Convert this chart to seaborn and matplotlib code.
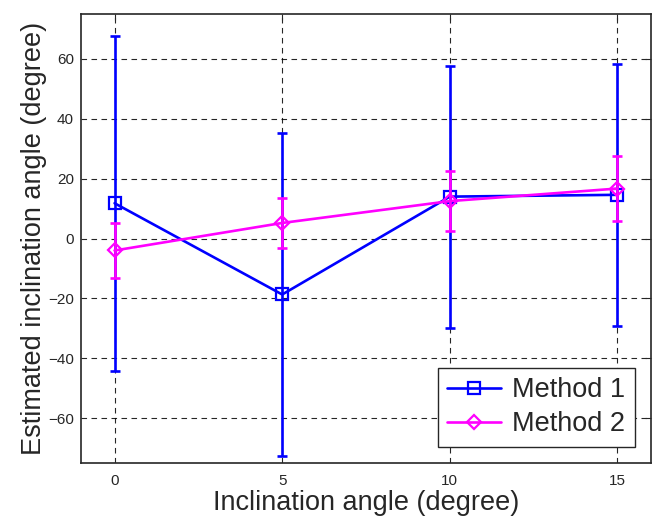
import matplotlib
matplotlib.use("Agg")
import matplotlib.pyplot as plt
import seaborn as sns
import pandas as pd
import numpy as np

angles = [0, 5, 10, 15]
method1_mean = [11.8, -18.7, 14.0, 14.6]
method1_err = [56.0, 54.0, 43.8, 43.8]
method2_mean = [-4.0, 5.2, 12.5, 16.7]
method2_err = [9.3, 8.2, 9.9, 10.8]
series_names = ["Method 1", "Method 2"]
xticks = [0, 5, 10, 15]
yticks = [-60, -40, -20, 0, 20, 40, 60]

sns.set_theme(style="white")
plt.rcParams['font.family'] = ['Liberation Sans', 'DejaVu Sans']

fig = plt.figure(figsize=(6.55, 5.2), dpi=100)
ax = fig.add_axes([0.1237, 0.1096, 0.9939 - 0.1237, 0.973 - 0.1096])

df = pd.DataFrame({
    "angle": angles * 2,
    "value": method1_mean + method2_mean,
    "err": method1_err + method2_err,
    "method": [series_names[0]] * 4 + [series_names[1]] * 4,
})
colors = {"Method 1": "#0000ff", "Method 2": "#ff00ff"}
markers = {"Method 1": "s", "Method 2": "D"}

for name in series_names:
    sub = df[df["method"] == name]
    ax.errorbar(sub["angle"], sub["value"], yerr=sub["err"], fmt="none",
                ecolor=colors[name], elinewidth=1.9, capsize=3.5, capthick=1.9,
                zorder=3 if name == "Method 1" else 5)
    sns.lineplot(data=sub, x="angle", y="value", ax=ax, color=colors[name],
                 marker=markers[name], markersize=8.5 if name == "Method 1" else 7.5,
                 markerfacecolor="none", markeredgecolor=colors[name],
                 markeredgewidth=1.6, linewidth=1.9, label=name,
                 errorbar=None, zorder=4 if name == "Method 1" else 6)

ax.set_xlim(-1, 16)
ax.set_ylim(-75, 75)
ax.set_xticks(xticks)
ax.set_yticks(yticks)
ax.tick_params(axis="both", which="both", direction="in", length=4, width=0.8,
               top=True, right=True, labelsize=11, colors="#262626",
               labelcolor="#262626")
ax.tick_params(axis="x", pad=8)
ax.tick_params(axis="y", pad=5)
ax.grid(True, color="black", linestyle=(0, (5, 4)), linewidth=0.8, alpha=0.85)
for sp in ax.spines.values():
    sp.set_color("#262626")
    sp.set_linewidth(1.2)

ax.set_xlabel("Inclination angle (degree)", fontsize=19.5, color="#262626", labelpad=1)
ax.set_ylabel("Estimated inclination angle (degree)", fontsize=19.5, color="#262626", labelpad=1)

leg = ax.legend(loc="lower right", fontsize=19.5, frameon=True, fancybox=False,
                edgecolor="#262626", framealpha=1, borderpad=0.35, labelspacing=0.3,
                handlelength=2.0, handletextpad=0.4, borderaxespad=0.6)
leg.get_frame().set_linewidth(1.0)
for t in leg.get_texts():
    t.set_color("#262626")

fig.savefig("out.png", dpi=100)
